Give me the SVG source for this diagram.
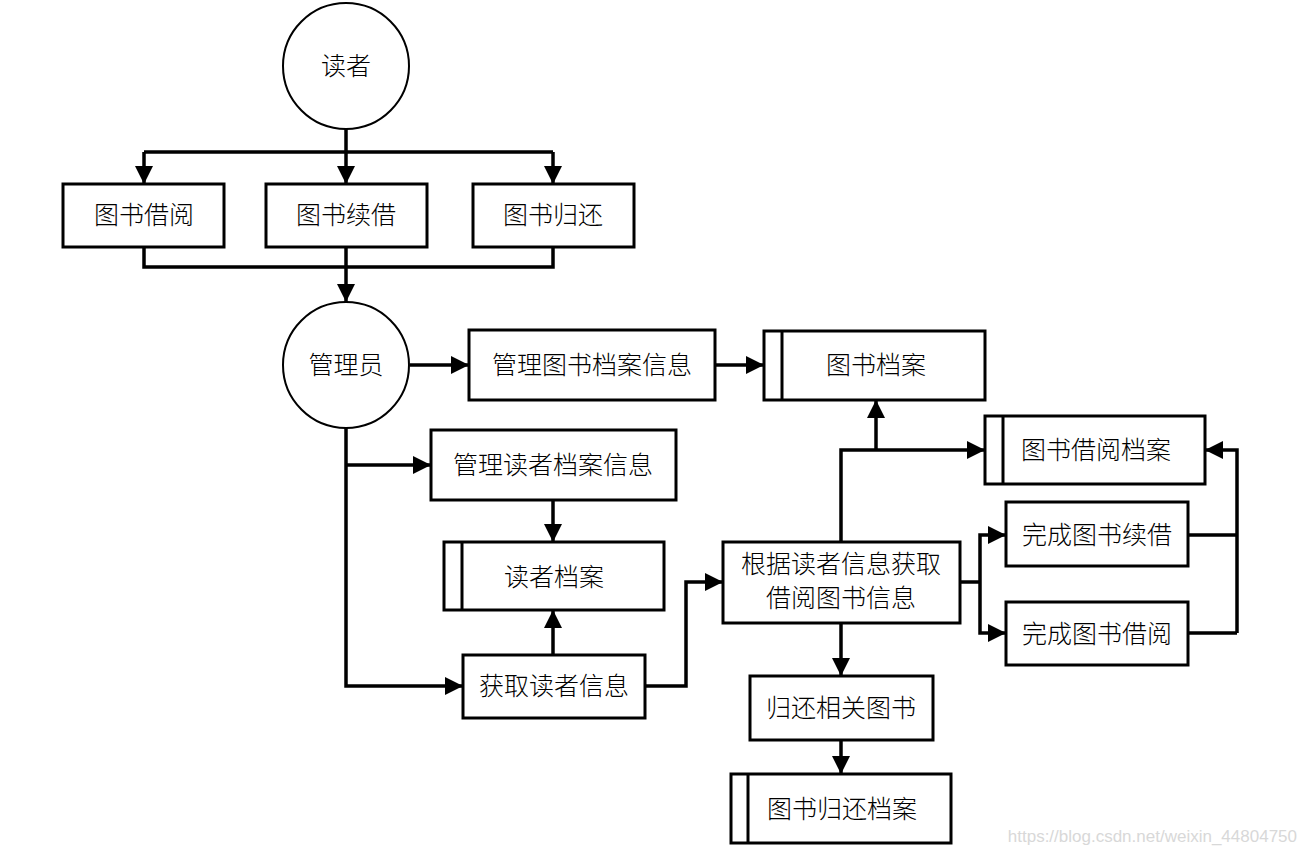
<svg xmlns="http://www.w3.org/2000/svg" width="1305" height="856" viewBox="0 0 1305 856">
<style>
.box{fill:#fff;stroke:#000;stroke-width:3}
.circ{fill:#fff;stroke:#000;stroke-width:2}
.bar{stroke:#000;stroke-width:3}
.t{font-family:"Liberation Serif","Noto Sans CJK SC",serif;font-size:25px;font-weight:300;fill:#000;text-anchor:middle;dominant-baseline:central}
.c{fill:none;stroke:#000;stroke-width:3.5;marker-end:url(#ah)}
.l{fill:none;stroke:#000;stroke-width:3.5}
.wm{font-family:"Liberation Sans",sans-serif;font-size:17px;fill:#d8d8d8}
</style>
<defs>
<marker id="ah" markerUnits="userSpaceOnUse" markerWidth="22" markerHeight="22" viewBox="0 0 22 22" refX="20" refY="11" orient="auto">
<path d="M2,2 L20,11 L2,20 Z" fill="#000"/>
</marker>
</defs>
<g id="connectors">
<path class="l" d="M346,129 V152 M144,152 H553"/>
<path class="c" d="M144,152 V184"/>
<path class="c" d="M346,152 V184"/>
<path class="c" d="M553,152 V184"/>
<path class="l" d="M144,247 V267 H553 V247"/>
<path class="c" d="M346,247 V302"/>
<path class="c" d="M410,365 H469"/>
<path class="c" d="M715,365 H764"/>
<path class="c" d="M346,428 V686 H463"/>
<path class="c" d="M346,465 H431"/>
<path class="c" d="M553,500 V542"/>
<path class="c" d="M553,655 V610"/>
<path class="c" d="M645,686 H686 V582 H723"/>
<path class="c" d="M841,542 V450 H985"/>
<path class="c" d="M876,450 V400"/>
<path class="l" d="M960,582 H980"/>
<path class="c" d="M980,582 V535 H1006"/>
<path class="c" d="M980,582 V633 H1006"/>
<path class="l" d="M1188,535 H1237 M1188,633 H1237"/>
<path class="c" d="M1237,633 V450 H1205"/>
<path class="c" d="M841,623 V676"/>
<path class="c" d="M841,740 V774"/>
</g>
<g id="n-reader"><circle class="circ" cx="346" cy="66" r="63"/><text class="t" x="346" y="66">读者</text></g>
<g id="n-borrow"><rect class="box" x="63" y="184" width="161" height="63"/><text class="t" x="144" y="215">图书借阅</text></g>
<g id="n-renew"><rect class="box" x="266" y="184" width="161" height="63"/><text class="t" x="346" y="215">图书续借</text></g>
<g id="n-return"><rect class="box" x="473" y="184" width="161" height="63"/><text class="t" x="553" y="215">图书归还</text></g>
<g id="n-admin"><circle class="circ" cx="346" cy="365" r="63"/><text class="t" x="346" y="365">管理员</text></g>
<g id="n-mbook"><rect class="box" x="469" y="330" width="246" height="70"/><text class="t" x="592" y="365">管理图书档案信息</text></g>
<g id="n-bookfile"><rect class="box" x="764" y="331" width="221" height="69"/><line class="bar" x1="782" y1="331" x2="782" y2="400"/><text class="t" x="876" y="365">图书档案</text></g>
<g id="n-mreader"><rect class="box" x="431" y="430" width="245" height="70"/><text class="t" x="553" y="465">管理读者档案信息</text></g>
<g id="n-readerfile"><rect class="box" x="444" y="542" width="220" height="68"/><line class="bar" x1="462" y1="542" x2="462" y2="610"/><text class="t" x="554" y="577">读者档案</text></g>
<g id="n-getreader"><rect class="box" x="463" y="655" width="182" height="63"/><text class="t" x="554" y="686">获取读者信息</text></g>
<g id="n-getbook"><rect class="box" x="723" y="542" width="237" height="81"/><text class="t" x="841" y="564">根据读者信息获取</text><text class="t" x="841" y="598">借阅图书信息</text></g>
<g id="n-borrowfile"><rect class="box" x="985" y="416" width="220" height="68"/><line class="bar" x1="1003" y1="416" x2="1003" y2="484"/><text class="t" x="1096" y="450">图书借阅档案</text></g>
<g id="n-dorenew"><rect class="box" x="1006" y="502" width="182" height="64"/><text class="t" x="1097" y="535">完成图书续借</text></g>
<g id="n-doborrow"><rect class="box" x="1006" y="602" width="182" height="63"/><text class="t" x="1097" y="634">完成图书借阅</text></g>
<g id="n-doreturn"><rect class="box" x="750" y="676" width="183" height="64"/><text class="t" x="841" y="708">归还相关图书</text></g>
<g id="n-returnfile"><rect class="box" x="731" y="774" width="220" height="69"/><line class="bar" x1="748" y1="774" x2="748" y2="843"/><text class="t" x="842" y="809">图书归还档案</text></g>
<text class="wm" x="1297" y="842" text-anchor="end">https://blog.csdn.net/weixin_44804750</text>
</svg>
